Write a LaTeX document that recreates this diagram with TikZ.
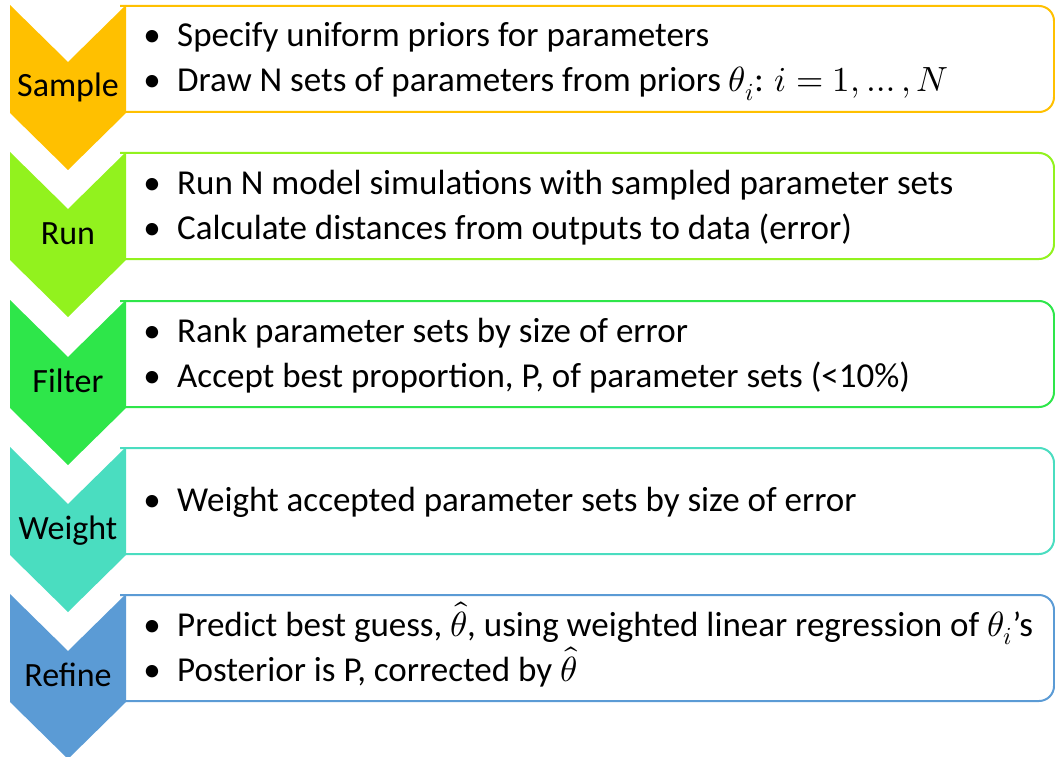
\documentclass[tikz,border=0pt]{standalone}
\usepackage{fontspec}
\usepackage{unicode-math}
\setmainfont{Carlito}
\setmathfont{Latin Modern Math}
\definecolor{cSample}{HTML}{FFC000}
\definecolor{cRun}{HTML}{92F21E}
\definecolor{cFilter}{HTML}{2EE64A}
\definecolor{cWeight}{HTML}{4ADDC0}
\definecolor{cRefine}{HTML}{5B9BD5}
\tikzset{
  stepbox/.style={draw=#1, line width=2pt, rounded corners=15pt},
  chevron/.style={fill=#1, draw=none},
  lbl/.style={anchor=base, font=\fontsize{34}{40}\selectfont, inner sep=0pt},
  itm/.style={anchor=base west, font=\fontsize{35}{42}\selectfont, inner sep=0pt},
  bul/.style={anchor=base, font=\fontsize{35}{42}\selectfont, inner sep=0pt},
}
\newcommand{\stage}[5]{%
  \draw[stepbox=#2] (120,#1+1) -- (1054,#1+1) -- (1054,#1+107) -- (120,#1+107);
  \fill[chevron=#2] (10,#1) -- (68,#1+57) -- (126,#1) -- (126,#1+108) -- (68,#1+165) -- (10,#1+108) -- cycle;
  \node[lbl] (#4) at (68,#1+92) {#3};
}
\begin{document}
\begin{tikzpicture}[x=1pt,y=-1pt]
\useasboundingbox (0,0) rectangle (1055,757);
\stage{5}{cSample}{Sample}{s1}{}
\stage{152}{cRun}{Run}{s2}{}
\stage{300}{cFilter}{Filter}{s3}{}
\stage{447}{cWeight}{Weight}{s4}{}
\stage{594}{cRefine}{Refine}{s5}{}
% box 1
\node[bul] (b11) at (152,47) {•};
\node[itm] (t11) at (177,47) {Specify uniform priors for parameters};
\node[bul] (b12) at (152,92) {•};
\node[itm] (t12) at (177,92) {Draw N sets of parameters from priors $\theta_i$: $i=1,\ldots,N$};
% box 2
\node[bul] (b21) at (152,194) {•};
\node[itm] (t21) at (177,194) {Run N model simulations with sampled parameter sets};
\node[bul] (b22) at (152,239) {•};
\node[itm] (t22) at (177,239) {Calculate distances from outputs to data (error)};
% box 3
\node[bul] (b31) at (152,342) {•};
\node[itm] (t31) at (177,342) {Rank parameter sets by size of error};
\node[bul] (b32) at (152,387) {•};
\node[itm] (t32) at (177,387) {Accept best proportion, P, of parameter sets (<10\%)};
% box 4
\node[bul] (b41) at (152,511) {•};
\node[itm] (t41) at (177,511) {Weight accepted parameter sets by size of error};
% box 5
\node[bul] (b51) at (152,636) {•};
\node[itm] (t51) at (177,636) {Predict best guess, $\hat\theta$, using weighted linear regression of $\theta_i$’s};
\node[bul] (b52) at (152,681) {•};
\node[itm] (t52) at (177,681) {Posterior is P, corrected by $\hat\theta$};
\end{tikzpicture}
\end{document}
